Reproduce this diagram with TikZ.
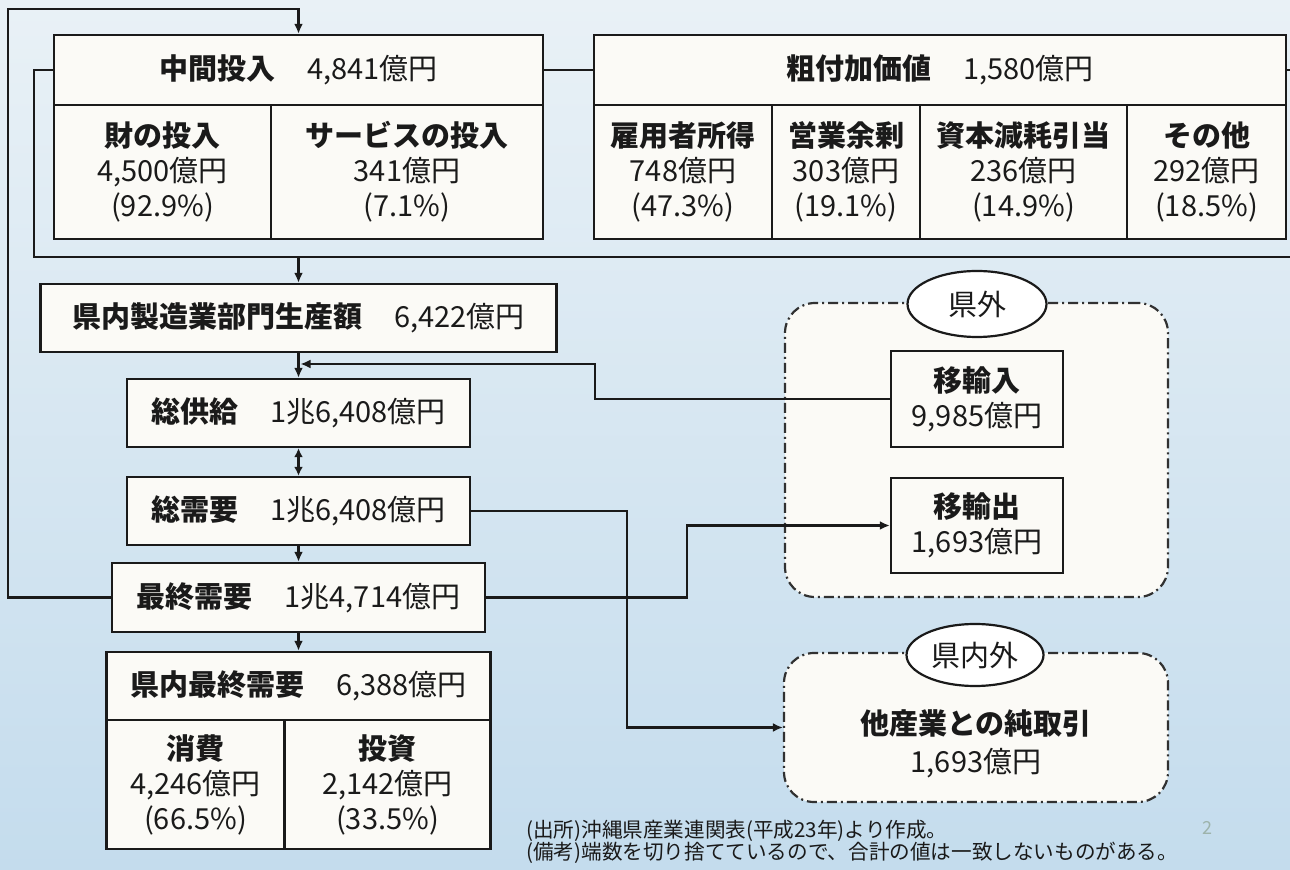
\documentclass[tikz,border=0pt]{standalone}
\usepackage{fontspec}
\setmainfont{Noto Sans CJK JP}
\usetikzlibrary{arrows.meta,shapes.geometric}
\definecolor{bgtop}{HTML}{E9F1F6}
\definecolor{bgmid}{HTML}{B3D2EA}
\definecolor{bgbot}{HTML}{C4DCED}
\definecolor{boxfill}{HTML}{FBFAF6}
\definecolor{ink}{HTML}{1A1A1A}
\definecolor{pagenum}{HTML}{9DB3AB}
\tikzset{
  sz/.style 2 args={minimum width=#1*0.5pt, minimum height=#2*0.5pt},
  cell/.style={draw=ink, line width=1.2pt, fill=boxfill, inner sep=0pt, align=center,
    font=\fontsize{14.5pt}{17.5pt}\selectfont, text=ink},
  plain/.style={inner sep=0pt, align=center, font=\fontsize{14.5pt}{17pt}\selectfont, text=ink},
  link/.style={draw=ink, line width=1.4pt},
  arr/.style={link, -{Latex[length=5pt,width=4.5pt]}},
  dualarr/.style={link, {Latex[length=4.5pt,width=4.5pt]}-{Latex[length=4.5pt,width=4.5pt]}},
  region/.style={draw=ink!90, line width=1.1pt, fill=boxfill, rounded corners=15pt, inner sep=0pt,
    dash pattern=on 5pt off 2pt on 1pt off 2pt},
  tag/.style={ellipse, draw=ink, line width=1.1pt, fill=white, inner sep=0pt,
    font=\fontsize{14.5pt}{17pt}\selectfont, text=ink},
  foot/.style={anchor=west, inner sep=0pt, font=\fontsize{10.3pt}{12pt}\selectfont, text=ink}
}
\begin{document}
\begin{tikzpicture}[x=0.5pt,y=-0.5pt]
\useasboundingbox (0,0) rectangle (1290,870);
\shade[top color=bgtop, middle color=bgmid, bottom color=bgbot] (0,0) rectangle (1290,870);

% regions (drawn first, connectors pass over them)
\node[region, sz={383}{294}] (outside) at (976.5,450) {};
\node[region, sz={384}{149}] (both) at (976,727.5) {};

% boxes
\node[cell, sz={489}{70}] (mid) at (298.5,70) {{\bfseries 中間投入}\hspace{1.1em}4,841億円};
\node[cell, sz={217}{134}] (zai) at (162.5,172) {{\bfseries 財の投入}\\4,500億円\\(92.9\%)};
\node[cell, sz={272}{134}] (svc) at (407,172) {{\bfseries サービスの投入}\\341億円\\(7.1\%)};

\node[cell, sz={692}{70}] (va) at (940,70) {{\bfseries 粗付加価値}\hspace{1.1em}1,580億円};
\node[cell, sz={178}{134}] (c1) at (683,172) {{\bfseries 雇用者所得}\\748億円\\(47.3\%)};
\node[cell, sz={148}{134}] (c2) at (846,172) {{\bfseries 営業余剰}\\303億円\\(19.1\%)};
\node[cell, sz={207}{134}] (c3) at (1023.5,172) {{\bfseries 資本減耗引当}\\236億円\\(14.9\%)};
\node[cell, sz={159}{134}] (c4) at (1206.5,172) {{\bfseries その他}\\292億円\\(18.5\%)};

\node[cell, sz={516}{68}] (prod) at (298.5,318) {{\bfseries 県内製造業部門生産額}\hspace{1.1em}6,422億円};
\node[cell, sz={343}{68}] (sup) at (298.5,413) {{\bfseries 総供給}\hspace{1.1em}1兆6,408億円};
\node[cell, sz={343}{68}] (dem) at (298.5,511) {{\bfseries 総需要}\hspace{1.1em}1兆6,408億円};
\node[cell, sz={373}{69}] (fin) at (298.5,597.5) {{\bfseries 最終需要}\hspace{1.1em}1兆4,714億円};
\node[cell, sz={384}{68}] (kfin) at (298.5,686) {{\bfseries 県内最終需要}\hspace{1.1em}6,388億円};
\node[cell, sz={178}{129}] (cons) at (195.5,784.5) {{\bfseries 消費}\\4,246億円\\(66.5\%)};
\node[cell, sz={206}{129}] (inv) at (387.5,784.5) {{\bfseries 投資}\\2,142億円\\(33.5\%)};

\node[cell, sz={172}{96}] (imp) at (977,399) {{\bfseries 移輸入}\\9,985億円};
\node[cell, sz={172}{95}] (exp) at (977,525.5) {{\bfseries 移輸出}\\1,693億円};
\node[plain] (net) at (976,744) {{\bfseries 他産業との純取引}\\[2pt]1,693億円};

\node[tag, sz={139}{66}] (tagout) at (977,304) {県外};
\node[tag, sz={137}{62}] (tagboth) at (975,655) {県内外};

% connectors
\coordinate (o1) at (8,9);
\draw[arr] (fin.west) -| (o1) -- (o1 -| mid.north) -- (mid.north);
\coordinate (i1) at (34,257);
\coordinate (iR) at (1290,257);
\draw[link] (mid.west) -| (i1) -- (iR);
\draw[arr] (i1 -| prod.north) -- (prod.north);
\draw[link] (mid.east) -- (va.west);
\coordinate (vR) at (1290,70);
\draw[link] (va.east) -- (vR);
\draw[arr] (prod.south) -- (sup.north);
\coordinate (m1) at (595,399);
\coordinate (m2) at (300.5,364);
\draw[arr] (imp.west) -- (m1) |- (m2);
\draw[dualarr] (sup.south) -- (dem.north);
\draw[arr] (dem.south) -- (fin.north);
\coordinate (d1) at (627,511);
\draw[arr] (dem.east) -- (d1) |- (both.west);
\coordinate (f1) at (687,597.5);
\draw[arr] (fin.east) -- (f1) |- (exp.west);
\draw[arr] (fin.south) -- (kfin.north);

% footnotes
\node[foot] (src) at (526,831) {(出所)沖縄県産業連関表(平成23年)より作成。};
\node[foot] (note) at (526,853) {(備考)端数を切り捨てているので、合計の値は一致しないものがある。};
\node[text=pagenum, inner sep=0pt, font=\fontsize{9pt}{10pt}\selectfont] (pg) at (1207,828) {2};
\end{tikzpicture}
\end{document}
